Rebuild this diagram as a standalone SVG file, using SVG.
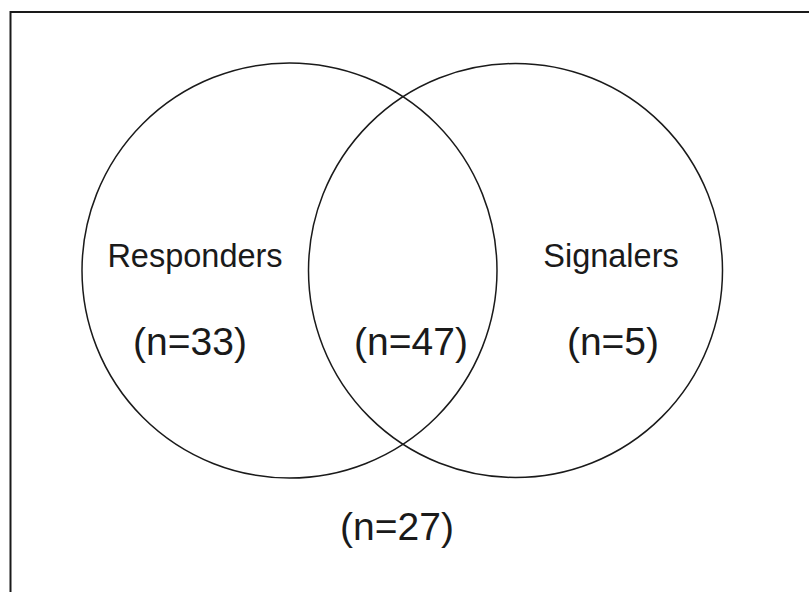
<svg xmlns="http://www.w3.org/2000/svg" width="809" height="592" viewBox="0 0 809 592">
<style>
.c{fill:none;stroke:#1a1a1a;stroke-width:1.5}
.t{font-family:"Liberation Sans",Arial,sans-serif;fill:#1a1a1a;text-anchor:middle}
.lab{font-size:32.5px}
.n{font-size:39px}
</style>
<rect width="809" height="592" fill="#fff"/>
<rect x="10.5" y="12" width="820" height="600" fill="none" stroke="#1a1a1a" stroke-width="2"/>
<g id="responders">
<circle class="c" cx="289.5" cy="270.5" r="207.5"/>
<text class="t lab" x="195" y="267">Responders</text>
<text class="t n" x="190" y="355">(n=33)</text>
</g>
<g id="signalers">
<circle class="c" cx="515.5" cy="270.5" r="207"/>
<text class="t lab" x="611" y="267">Signalers</text>
<text class="t n" x="613" y="355">(n=5)</text>
</g>
<g id="both">
<text class="t n" x="411" y="355">(n=47)</text>
</g>
<g id="neither">
<text class="t n" x="397" y="540">(n=27)</text>
</g>
<g id="connectors"></g>
</svg>
